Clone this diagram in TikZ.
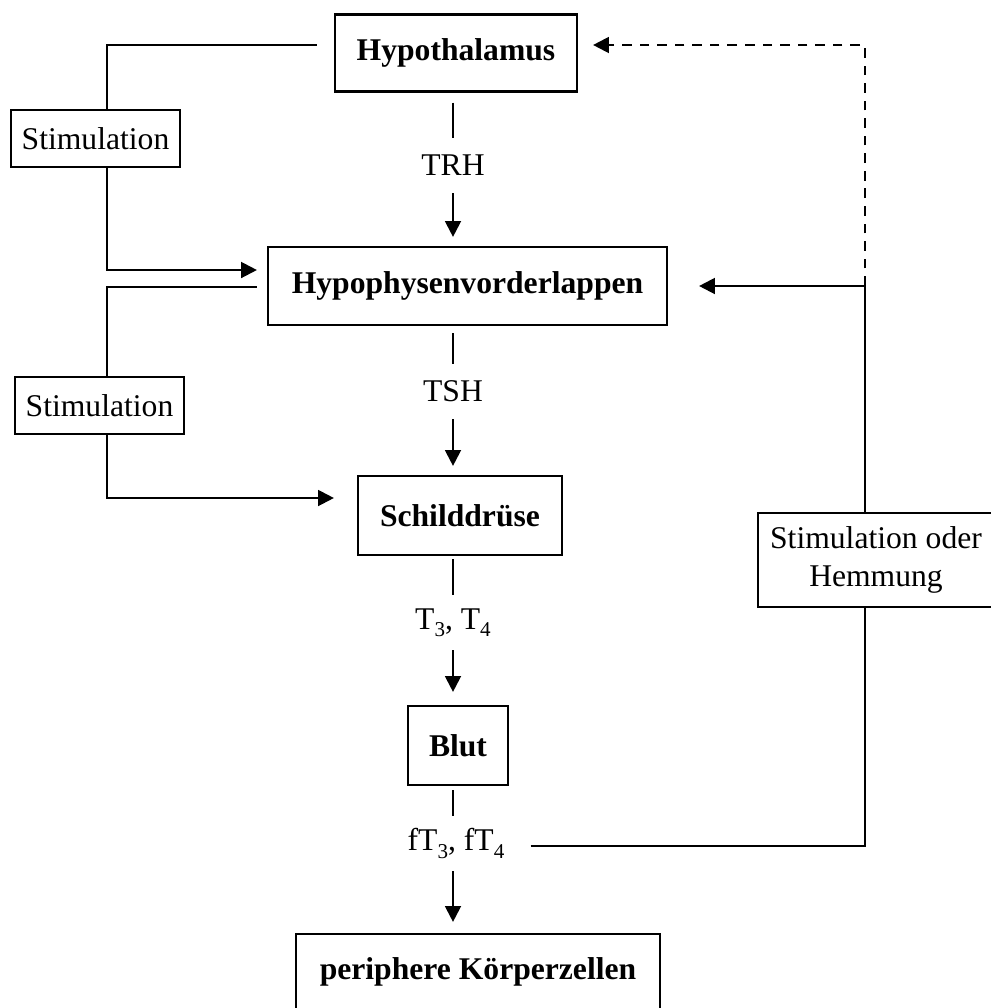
\documentclass[tikz,border=0pt]{standalone}
\usepackage{fontspec}
\setmainfont{Liberation Serif}
\usetikzlibrary{calc}
\usetikzlibrary{arrows.meta}

\newcommand{\hsub}[1]{\raisebox{-0.5ex}{\fontsize{12}{12}\selectfont #1}}

\tikzset{
  organ/.style={draw,line width=1.25pt,inner sep=0pt,align=center,
    font=\fontsize{18}{22}\selectfont\bfseries},
  signal/.style={draw,line width=1.25pt,inner sep=0pt,align=center,
    font=\fontsize{18}{22}\selectfont},
  hormone/.style={inner sep=0pt,minimum height=1.1cm,
    font=\fontsize{18}{22}\selectfont},
  conn/.style={line width=1.25pt},
  arr/.style={conn,-{Triangle[length=9pt,width=9pt]}}
}

\begin{document}
\begin{tikzpicture}[x=0.02cm,y=-0.02cm]

\clip (0,0) rectangle (991,1008);

% organs
\node[organ,minimum width=4.84cm,minimum height=1.54cm] (hyp) at (456,53) {Hypothalamus};
\node[organ,minimum width=7.98cm,minimum height=1.56cm] (hvl) at (467.5,286) {Hypophysenvorderlappen};
\node[organ,minimum width=4.08cm,minimum height=1.58cm] (sch) at (460,515.5) {Schilddrüse};
\node[organ,minimum width=2.0cm,minimum height=1.58cm] (blut) at (458,745.5) {Blut};
\node[organ,minimum width=7.28cm,minimum height=1.52cm] (peri) at (478,972) {periphere Körperzellen};

% hormones
\node[hormone] (trh) at (453,165.5) {TRH};
\node[hormone] (tsh) at (453,391.5) {TSH};
\node[hormone] (t34) at (453,622.5) {T\hsub{3}, T\hsub{4}};
\node[hormone] (ft) at (456,843.5) {fT\hsub{3}, fT\hsub{4}};

% regulation boxes
\node[signal,minimum width=3.38cm,minimum height=1.14cm] (stim1) at (95.5,138.5) {Stimulation};
\node[signal,minimum width=3.38cm,minimum height=1.14cm] (stim2) at (99.5,405.5) {Stimulation};
\node[signal,minimum width=4.72cm,minimum height=1.88cm] (soh) at (876,560) {Stimulation oder\\Hemmung};

\coordinate (left) at (107,0);
\coordinate (right) at (865,0);

% main axis
\draw[conn,shorten <=0.2cm] (hyp.south -| trh) -- (trh);
\draw[arr,shorten >=0.18cm] (trh) -- (trh |- hvl.north);
\draw[conn,shorten <=0.14cm] (hvl.south -| tsh) -- (tsh);
\draw[arr,shorten >=0.18cm] (tsh) -- (tsh |- sch.north);
\draw[conn,shorten <=0.06cm] (sch.south -| t34) -- (t34);
\draw[arr,shorten >=0.26cm] (t34) -- (t34 |- blut.north);
\draw[conn,shorten <=0.08cm] (blut.south -| t34) -- (t34 |- ft.north);
\draw[arr,shorten >=0.22cm] (t34 |- ft.south) -- (t34 |- peri.north);

% left side
\draw[conn,shorten <=0.34cm] ([yshift=0.16cm]hyp.west) -| (left |- stim1.north);
\draw[arr,shorten >=0.2cm] (left |- stim1.south) |- ([yshift=0.32cm]hvl.west);
\draw[conn,shorten <=0.2cm] ([yshift=-0.02cm]hvl.west) -| (left |- stim2.north);
\draw[arr,shorten >=0.46cm] (left |- stim2.south) |- ([yshift=0.35cm]sch.west);

% right side
\draw[conn,shorten <=0.52cm] ([yshift=-0.05cm]ft.east) -| (right |- soh.south);
\draw[arr,shorten >=0.62cm] (right |- soh.north) |- (hvl.east);
\coordinate (junc) at (right |- hvl.east);
\draw[arr,dash pattern=on 5.5pt off 4.5pt,shorten >=0.3cm] (junc) |- ([yshift=0.16cm]hyp.east);

\end{tikzpicture}
\end{document}
